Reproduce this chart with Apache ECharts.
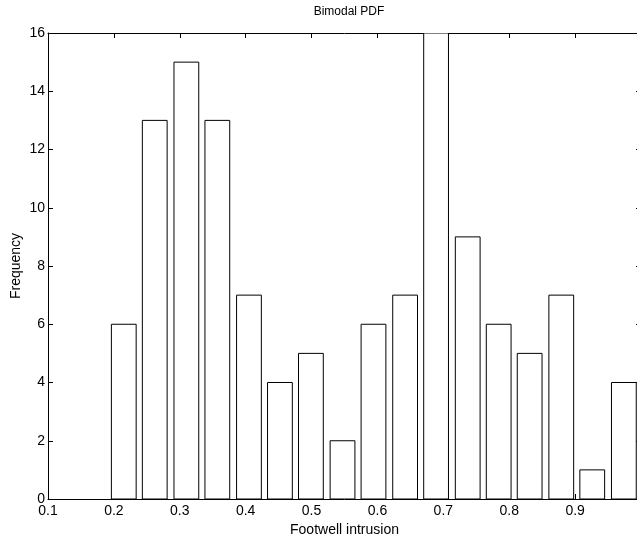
<!DOCTYPE html>
<html>
<head>
<meta charset="utf-8">
<script src="https://cdn.jsdelivr.net/npm/echarts@6/dist/echarts.min.js"></script>
<style>
  html, body { margin: 0; padding: 0; overflow: hidden; background: #fff; }
  #chart { width: 700px; height: 537px; }
</style>
</head>
<body>
<div id="chart"></div>
<script>
// histogram bins (centres) and counts
var binCenters = [0.215, 0.262, 0.310, 0.357, 0.405, 0.452, 0.499, 0.547, 0.594,
  0.642, 0.689, 0.737, 0.784, 0.831, 0.879, 0.926, 0.974]
var counts = [6, 13, 15, 13, 7, 4, 5, 2, 6, 7, 17, 9, 6, 5, 7, 1, 4]
var barHalfWidth = 0.0188

var font = 'Liberation Sans, Arial, Helvetica, sans-serif'
var chart = echarts.init(document.getElementById('chart'))

var data = binCenters.map(function(c, i) { return [c, counts[i]] })

function axisCommon(show) {
  return {
    axisLine: { show: true, onZero: false, lineStyle: { color: '#000', width: 1 } },
    axisTick: { show: true, inside: true, length: 5, lineStyle: { color: '#000' } },
    axisLabel: { show: show, color: '#000', fontFamily: font, fontSize: 14 },
    splitLine: { show: false }
  }
}

chart.setOption({
  animation: false,
  title: {
    text: 'Bimodal PDF',
    left: 344,
    textAlign: 'center',
    top: 1,
    textStyle: { fontFamily: font, fontSize: 12, fontWeight: 'normal', color: '#000' }
  },
  grid: { left: 48, top: 33, width: 593, bottom: 38, containLabel: false, outerBoundsMode: 'none' },
  xAxis: [
    Object.assign(axisCommon(true), {
      type: 'value', min: 0.1, max: 1.0, interval: 0.1, position: 'bottom',
      name: 'Footwell intrusion', nameLocation: 'middle', nameGap: 24, nameMoveOverlap: false,
      nameTextStyle: { fontFamily: font, fontSize: 14, color: '#000' },
      axisLabel: { color: '#000', fontFamily: font, fontSize: 14, margin: 5,
        formatter: function(v) { return String(+v.toFixed(1)) } }
    }),
    Object.assign(axisCommon(false), {
      type: 'value', min: 0.1, max: 1.0, interval: 0.1, position: 'top'
    })
  ],
  yAxis: [
    Object.assign(axisCommon(true), {
      type: 'value', min: 0, max: 16, interval: 2, position: 'left',
      name: 'Frequency', nameLocation: 'middle', nameGap: 25, nameMoveOverlap: false,
      nameTextStyle: { fontFamily: font, fontSize: 14, color: '#000' },
      axisLabel: { color: '#000', fontFamily: font, fontSize: 14, margin: 3 }
    }),
    Object.assign(axisCommon(false), {
      type: 'value', min: 0, max: 16, interval: 2, position: 'right'
    })
  ],
  series: [{
    type: 'custom',
    data: data,
    clip: true,
    renderItem: function(params, api) {
      var c = api.value(0)
      var p0 = api.coord([c - barHalfWidth, 0])
      var p1 = api.coord([c + barHalfWidth, api.value(1)])
      var shape = echarts.graphic.clipRectByRect(
        { x: p0[0], y: p1[1], width: p1[0] - p0[0], height: p0[1] - p1[1] },
        { x: params.coordSys.x, y: params.coordSys.y,
          width: params.coordSys.width, height: params.coordSys.height }
      )
      if (!shape) return
      return {
        type: 'rect',
        shape: shape,
        style: { fill: '#fff', stroke: '#000', lineWidth: 1 }
      }
    }
  }]
})
</script>
</body>
</html>
